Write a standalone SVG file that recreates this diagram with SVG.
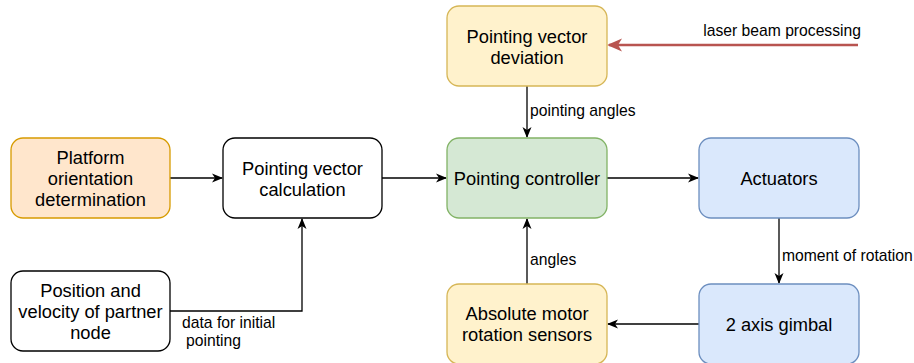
<svg xmlns="http://www.w3.org/2000/svg" width="914" height="363" viewBox="0 0 914 363">
<defs>
<style>
.box{stroke-width:1.3}
.plain{fill:#ffffff;stroke:#000000}
.orange{fill:#ffe6cc;stroke:#d79b00}
.yellow{fill:#fff2cc;stroke:#d6b656}
.green{fill:#d5e8d4;stroke:#82b366}
.blue{fill:#dae8fc;stroke:#6c8ebf}
.nt{font-family:"Liberation Sans",Arial,sans-serif;font-size:18.3px;fill:#000;text-anchor:middle}
.lt{font-family:"Liberation Sans",Arial,sans-serif;font-size:15.7px;fill:#000}
.edge{fill:none;stroke:#000;stroke-width:1.3}
.red{fill:none;stroke:#b85450;stroke-width:2.6}
</style>
<marker id="arr" markerWidth="12" markerHeight="10" refX="10" refY="5" orient="auto" markerUnits="userSpaceOnUse">
<path d="M0,0.5 L11,5 L0,9.5 L3,5 Z" fill="#000"/>
</marker>
<marker id="arrRed" markerWidth="16" markerHeight="14" refX="13" refY="7" orient="auto" markerUnits="userSpaceOnUse">
<path d="M0,0.5 L15,7 L0,13.5 L4,7 Z" fill="#b85450"/>
</marker>
</defs>

<g id="connectors">
<line class="edge" x1="170" y1="178" x2="222" y2="178" marker-end="url(#arr)"/>
<line class="edge" x1="382" y1="178" x2="446" y2="178" marker-end="url(#arr)"/>
<line class="edge" x1="607" y1="178" x2="698" y2="178" marker-end="url(#arr)"/>
<line class="edge" x1="527" y1="86" x2="527" y2="137" marker-end="url(#arr)"/>
<line class="red" x1="858" y1="45" x2="609" y2="45" marker-end="url(#arrRed)"/>
<line class="edge" x1="779" y1="218" x2="779" y2="283" marker-end="url(#arr)"/>
<line class="edge" x1="699" y1="324" x2="608" y2="324" marker-end="url(#arr)"/>
<line class="edge" x1="527" y1="284" x2="527" y2="219" marker-end="url(#arr)"/>
<polyline class="edge" points="170,311 302,311 302,219" marker-end="url(#arr)"/>
<text class="lt" x="530" y="116">pointing angles</text>
<text class="lt" x="861" y="36" text-anchor="end">laser beam processing</text>
<text class="lt" x="782" y="261">moment of rotation</text>
<text class="lt" x="530" y="265">angles</text>
<text class="lt" x="182" y="328">data for initial</text>
<text class="lt" x="186" y="346">pointing</text>
</g>

<g id="platform">
<rect class="box orange" x="11" y="138" width="159" height="80" rx="12"/>
<text class="nt" x="90.5" y="164">Platform</text>
<text class="nt" x="90.5" y="185">orientation</text>
<text class="nt" x="90.5" y="206">determination</text>
</g>

<g id="pvcalc">
<rect class="box plain" x="223" y="138" width="159" height="80" rx="12"/>
<text class="nt" x="302.5" y="175">Pointing vector</text>
<text class="nt" x="302.5" y="196">calculation</text>
</g>

<g id="position">
<rect class="box plain" x="11" y="271" width="159" height="80" rx="12"/>
<text class="nt" x="90.5" y="297">Position and</text>
<text class="nt" x="90.5" y="318">velocity of partner</text>
<text class="nt" x="90.5" y="339">node</text>
</g>

<g id="deviation">
<rect class="box yellow" x="447" y="6" width="160" height="80" rx="12"/>
<text class="nt" x="527" y="42.5">Pointing vector</text>
<text class="nt" x="527" y="63.5">deviation</text>
</g>

<g id="controller">
<rect class="box green" x="447" y="138" width="160" height="80" rx="12"/>
<text class="nt" x="527" y="184.5">Pointing controller</text>
</g>

<g id="actuators">
<rect class="box blue" x="699" y="138" width="160" height="80" rx="12"/>
<text class="nt" x="779" y="184.5">Actuators</text>
</g>

<g id="sensors">
<rect class="box yellow" x="447" y="284" width="160" height="80" rx="12"/>
<text class="nt" x="527" y="320">Absolute motor</text>
<text class="nt" x="527" y="341">rotation sensors</text>
</g>

<g id="gimbal">
<rect class="box blue" x="699" y="284" width="160" height="80" rx="12"/>
<text class="nt" x="779" y="330.5">2 axis gimbal</text>
</g>
</svg>
